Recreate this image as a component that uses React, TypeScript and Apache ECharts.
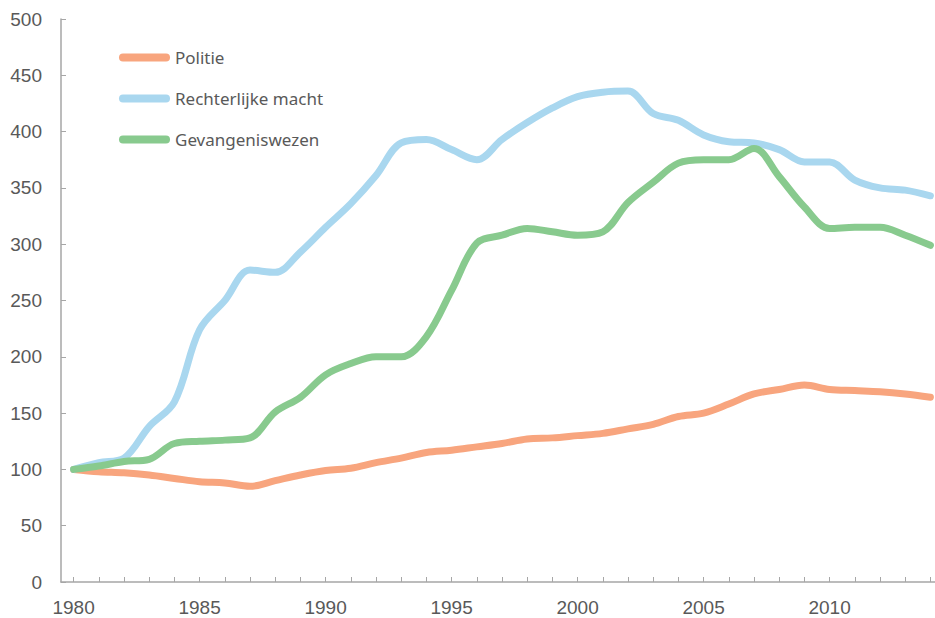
import React, { useEffect, useRef } from "react";
import * as echarts from "echarts";

const years: string[] = [];
for (let y = 1980; y <= 2014; y++) years.push(String(y));

const politie = [100, 98, 97, 95, 92, 89, 88, 85, 90, 95, 99, 101, 106, 110, 115, 117, 120, 123, 127, 128, 130, 132, 136, 140, 147, 150, 158, 167, 171, 175, 171, 170, 169, 167, 164];
const rechterlijk = [100, 106, 110, 138, 160, 224, 250, 277, 275, 293, 315, 336, 361, 390, 393, 384, 375, 393, 408, 421, 431, 435, 436, 416, 410, 397, 391, 390, 384, 373, 373, 357, 350, 348, 343];
const gevangenis = [100, 103, 107, 109, 123, 125, 126, 128, 151, 164, 184, 194, 200, 200, 218, 259, 301, 308, 314, 311, 308, 311, 337, 355, 372, 375, 375, 385, 360, 333, 314, 315, 315, 308, 299];

const seriesNames = ["Politie", "Rechterlijke macht", "Gevangeniswezen"];
const seriesColors = ["#F8A57E", "#A9D7EF", "#88CA8E"];

export default function App() {
  const ref = useRef<HTMLDivElement>(null);
  useEffect(() => {
    if (!ref.current) return;
    const chart = echarts.init(ref.current, null, { renderer: "svg" });
    const data = [politie, rechterlijk, gevangenis];
    chart.setOption({
      animation: false,
      backgroundColor: "#ffffff",
      textStyle: { fontFamily: "Liberation Sans, Arial, sans-serif" },
      grid: { left: 61, right: -8, top: 19, bottom: 36, outerBoundsMode: "none", containLabel: false },
      legend: {
        orient: "vertical",
        left: 114,
        top: 44,
        itemWidth: 51,
        itemHeight: 8,
        itemGap: 24,
        icon: "path://M4,0 H47 A4,4 0 0 1 47,8 H4 A4,4 0 0 1 4,0 Z",
        textStyle: { fontFamily: "'Noto Sans', 'Open Sans', sans-serif", fontSize: 17, color: "#595959" },
        data: seriesNames,
      },
      xAxis: {
        type: "category",
        data: years,
        boundaryGap: true,
        axisLine: { lineStyle: { color: "#A6A6A6", width: 1.5 } },
        axisTick: { show: true, inside: true, length: 5, alignWithLabel: true, interval: 0, lineStyle: { color: "#A6A6A6" } },
        axisLabel: { interval: 4, color: "#595959", fontSize: 19, margin: 16, fontFamily: "Liberation Sans, Arial, sans-serif" },
        splitLine: { show: false },
      },
      yAxis: {
        type: "value",
        min: 0,
        max: 500,
        interval: 50,
        axisLine: { show: true, lineStyle: { color: "#A6A6A6", width: 1.5 } },
        axisTick: { show: true, inside: true, length: 5, lineStyle: { color: "#A6A6A6" } },
        axisLabel: { color: "#595959", fontSize: 19, margin: 19, fontFamily: "Liberation Sans, Arial, sans-serif" },
        splitLine: { show: false },
      },
      series: seriesNames.map((name, i) => ({
        name,
        type: "line",
        data: data[i],
        smooth: 0.35,
        showSymbol: false,
        symbol: "none",
        color: seriesColors[i],
        lineStyle: { width: 7, color: seriesColors[i], cap: "round", join: "round" },
      })),
    });
    return () => chart.dispose();
  }, []);
  return <div ref={ref} style={{ width: 935, height: 618, position: "absolute", left: 0, top: 0 }} />;
}
